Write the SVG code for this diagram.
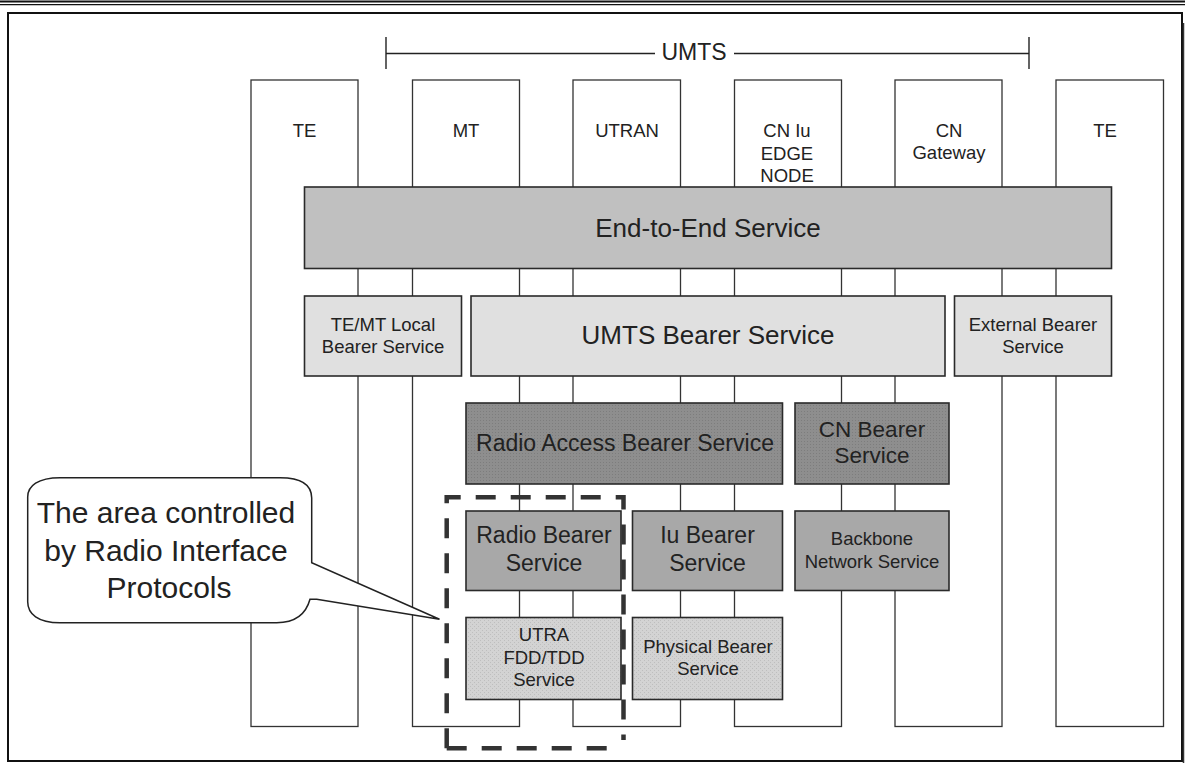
<svg xmlns="http://www.w3.org/2000/svg" width="1185" height="763" viewBox="0 0 1185 763">
<style>
.col{fill:#fff;stroke:#333;stroke-width:1.3}
.box{stroke:#2a2a2a;stroke-width:1.6}
.t{font-family:"Liberation Sans",Arial,sans-serif;fill:#222;text-anchor:middle}
.s18{font-size:18.5px}
.s23{font-size:23px}
.s26{font-size:26px}
.ln{stroke:#222;stroke-width:1.4;fill:none}
</style>
<defs>
<pattern id="dots" width="3" height="3" patternUnits="userSpaceOnUse">
<rect width="3" height="3" fill="#8e8e8e"/>
<rect x="0" y="0" width="1" height="1" fill="#7d7d7d"/>
</pattern>
<pattern id="hatch" width="4" height="4" patternUnits="userSpaceOnUse">
<rect width="4" height="4" fill="#d3d3d3"/>
<rect x="0" y="0" width="1" height="1" fill="#bebebe"/>
<rect x="2" y="2" width="1" height="1" fill="#bebebe"/>
</pattern>
</defs>
<rect width="1185" height="763" fill="#fff"/>
<line x1="0" y1="1.6" x2="1185" y2="1.6" stroke="#111" stroke-width="2"/>
<line x1="0" y1="4.6" x2="1185" y2="4.6" stroke="#111" stroke-width="1.3"/>
<rect x="8" y="13" width="1174" height="748" fill="none" stroke="#111" stroke-width="2"/>
<line x1="1183.5" y1="23" x2="1183.5" y2="763" stroke="#333" stroke-width="1.5"/>

<g id="connectors">
<line class="ln" x1="386" y1="37" x2="386" y2="69"/>
<line class="ln" x1="386" y1="53.5" x2="655" y2="53.5"/>
<line class="ln" x1="734" y1="53.5" x2="1029" y2="53.5"/>
<line class="ln" x1="1029" y1="37" x2="1029" y2="69"/>
<text class="t" x="694" y="60" font-size="23">UMTS</text>
</g>

<g id="col-te1"><rect class="col" x="251" y="80" width="107" height="646.5"/><text class="t s18" x="304.5" y="137">TE</text></g>
<g id="col-mt"><rect class="col" x="412.5" y="80" width="107" height="646.5"/><text class="t s18" x="466" y="137">MT</text></g>
<g id="col-utran"><rect class="col" x="573" y="80" width="107.5" height="646.5"/><text class="t s18" x="627" y="137">UTRAN</text></g>
<g id="col-cniu"><rect class="col" x="734.5" y="80" width="107" height="646.5"/><text class="t s18" x="787" y="137">CN Iu</text><text class="t s18" x="787" y="159.5">EDGE</text><text class="t s18" x="787" y="182">NODE</text></g>
<g id="col-cngw"><rect class="col" x="895" y="80" width="107" height="646.5"/><text class="t s18" x="949" y="137">CN</text><text class="t s18" x="949" y="159">Gateway</text></g>
<g id="col-te2"><rect class="col" x="1056" y="80" width="107.5" height="646.5"/><text class="t s18" x="1105" y="137">TE</text></g>

<g id="end-to-end"><rect class="box" x="304.5" y="187" width="807" height="81.5" fill="#c0c0c0"/><text class="t s26" x="708" y="237">End-to-End Service</text></g>

<g id="temt-local"><rect class="box" x="304.5" y="296" width="157" height="80" fill="#e0e0e0"/><text class="t s18" x="383" y="330.7">TE/MT Local</text><text class="t s18" x="383" y="353.3">Bearer Service</text></g>
<g id="umts-bearer"><rect class="box" x="471" y="296" width="474" height="80" fill="#e0e0e0"/><text class="t s26" x="708" y="344">UMTS Bearer Service</text></g>
<g id="external-bearer"><rect class="box" x="954.5" y="296" width="157" height="80" fill="#e0e0e0"/><text class="t s18" x="1033" y="330.7">External Bearer</text><text class="t s18" x="1033" y="353.3">Service</text></g>

<g id="rab"><rect class="box" x="466" y="403" width="316.5" height="81" fill="url(#dots)"/><text class="t s23" x="625" y="450.5">Radio Access Bearer Service</text></g>
<g id="cn-bearer"><rect class="box" x="795" y="403" width="154" height="81" fill="url(#dots)"/><text class="t" font-size="22.5" x="872" y="436.7">CN Bearer</text><text class="t" font-size="22.5" x="872" y="462.7">Service</text></g>

<g id="radio-bearer"><rect class="box" x="466" y="511" width="155" height="79.5" fill="#a8a8a8"/><text class="t s23" x="544" y="543.3">Radio Bearer</text><text class="t s23" x="544" y="570.7">Service</text></g>
<g id="iu-bearer"><rect class="box" x="632.5" y="511" width="150" height="79.5" fill="#a8a8a8"/><text class="t s23" x="707.5" y="543.3">Iu Bearer</text><text class="t s23" x="707.5" y="570.7">Service</text></g>
<g id="backbone"><rect class="box" x="795" y="511" width="154" height="79.5" fill="#a8a8a8"/><text class="t s18" x="872" y="545">Backbone</text><text class="t s18" x="872" y="568.3">Network Service</text></g>

<g id="utra"><rect class="box" x="466" y="617.5" width="155" height="82" fill="url(#hatch)"/><text class="t s18" x="544" y="641">UTRA</text><text class="t s18" x="544" y="663.5">FDD/TDD</text><text class="t s18" x="544" y="686.3">Service</text></g>
<g id="physical-bearer"><rect class="box" x="632.5" y="617.5" width="150" height="82" fill="url(#hatch)"/><text class="t s18" x="708" y="653.3">Physical Bearer</text><text class="t s18" x="708" y="675">Service</text></g>

<g id="callout">
<path d="M60 477.7 H280 C303 477.7 311.7 486 311.7 498 V562.7 L439.5 619.3 L316.7 599.3 L310 599.3 C306 614 296 622.7 276.7 622.7 H60 C38 622.7 27.7 614 27.7 601.7 V497 C27.7 486 38 477.7 60 477.7 Z" fill="#fff" stroke="#222" stroke-width="1.5"/>
<text class="t" font-size="30" x="166" y="523.3">The area controlled</text>
<text class="t" font-size="30" x="166" y="561">by Radio Interface</text>
<text class="t" font-size="30" x="169" y="598.3">Protocols</text>
</g>

<g id="radio-interface-area" fill="none" stroke="#333" stroke-width="4.5" stroke-dasharray="20 15">
<path d="M446.7 748.3 H616"/>
<path d="M446.7 748.3 V497.3 H623.5 V740"/>
</g>
</svg>
